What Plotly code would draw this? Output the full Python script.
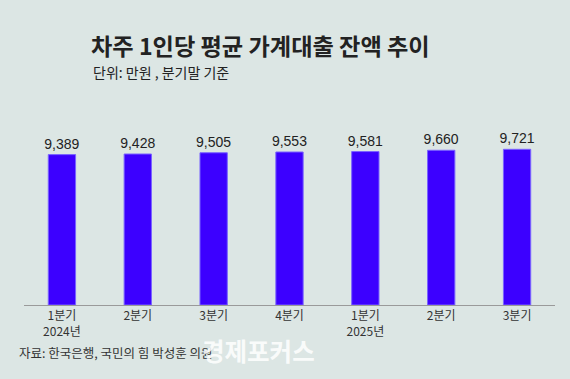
import plotly.graph_objects as go

categories = ["1분기<br>2024년", "2분기", "3분기", "4분기", "1분기<br>2025년", "2분기", "3분기"]
values = [9389, 9428, 9505, 9553, 9581, 9660, 9721]
value_labels = ["9,389", "9,428", "9,505", "9,553", "9,581", "9,660", "9,721"]

bg = "#dce6e4"
x_idx = list(range(len(categories)))

PL, PT, PW, PH = 24, 110, 531, 195


def px(x):
    return (x - PL) / PW


def py(y):
    return (PT + PH - y) / PH


fig = go.Figure()
fig.add_trace(go.Bar(
    x=x_idx, y=values, width=0.36,
    marker=dict(color="#3c00ff", line=dict(color="#7a63ff", width=1)),
    text=value_labels, textposition="outside", cliponaxis=False,
    constraintext="none",
    textfont=dict(family="Liberation Sans, Arial", size=14, color="#222222"),
    hoverinfo="skip",
))

fig.update_layout(
    width=570, height=379,
    paper_bgcolor=bg, plot_bgcolor=bg,
    margin=dict(l=PL, r=570 - PL - PW, t=PT, b=379 - PT - PH),
    showlegend=False,
    font=dict(family="Noto Sans CJK KR"),
    xaxis=dict(
        tickmode="array", tickvals=x_idx, ticktext=categories,
        range=[-0.5, len(categories) - 0.5],
        showline=True, linecolor="#9a9a9a", linewidth=1,
        showgrid=False, zeroline=False, ticks="",
        tickfont=dict(family="Noto Sans CJK KR", size=12, color="#333333"),
        fixedrange=True,
    ),
    yaxis=dict(range=[0, 12175], visible=False, fixedrange=True),
    bargap=0.64,
)

fig.add_annotation(
    text="<b>차주 1인당 평균 가계대출 잔액 추이</b>",
    xref="paper", yref="paper", x=px(89), y=py(45),
    xanchor="left", yanchor="middle", showarrow=False,
    font=dict(family="Noto Sans CJK KR", size=23.2, color="#222222"),
)
fig.add_annotation(
    text="단위: 만원 , 분기말 기준",
    xref="paper", yref="paper", x=px(91), y=py(72),
    xanchor="left", yanchor="middle", showarrow=False,
    font=dict(family="Noto Sans CJK KR", size=14, color="#222222"),
)
fig.add_annotation(
    text="자료: 한국은행, 국민의 힘 박성훈 의원",
    xref="paper", yref="paper", x=px(17), y=py(352),
    xanchor="left", yanchor="middle", showarrow=False,
    font=dict(family="Noto Sans CJK KR", size=12.5, color="#333333"),
)
fig.add_annotation(
    text="<b>경제포커스</b>",
    xref="paper", yref="paper", x=px(200), y=py(350),
    xanchor="left", yanchor="middle", showarrow=False,
    font=dict(family="Noto Sans CJK KR", size=24.5, color="rgba(255,255,255,0.85)"),
)

fig.write_html(
    "out.html",
    config={"displayModeBar": False},
    post_script="document.body.style.margin='0';document.body.style.background='%s';" % bg,
)
